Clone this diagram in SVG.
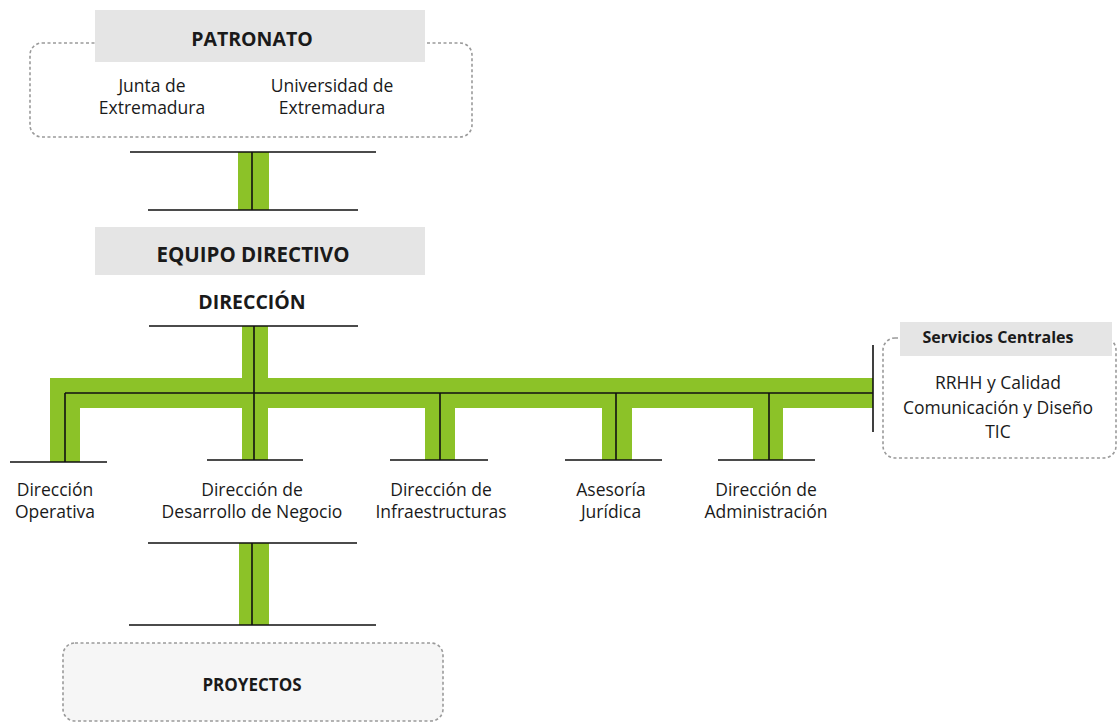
<svg xmlns="http://www.w3.org/2000/svg" width="1119" height="724" viewBox="0 0 1119 724">
<style>
.t{font-family:"Open Sans","Liberation Sans",sans-serif;fill:#1a1a1a;text-anchor:middle}
.n{font-size:17.5px}
.b{font-weight:bold}
.dash{fill:none;stroke:#9a9a9a;stroke-width:1.6;stroke-dasharray:3 2.5}
.hdr{fill:#e5e5e5}
.g{fill:#8cc228}
.k{stroke:#111;stroke-width:1.6;fill:none}
</style>
<rect width="1119" height="724" fill="#fff"/>
<g id="patronato">
<rect class="dash" x="30" y="43" width="442" height="94" rx="12"/>
<rect class="hdr" x="95" y="10" width="330" height="52"/>
<text class="t b" x="252" y="46" font-size="19.5">PATRONATO</text>
<text class="t n" x="152" y="92">Junta de</text>
<text class="t n" x="152" y="114">Extremadura</text>
<text class="t n" x="332" y="92">Universidad de</text>
<text class="t n" x="332" y="114">Extremadura</text>
</g>
<g id="equipo-directivo">
<rect class="hdr" x="95" y="227" width="330" height="48"/>
<text class="t b" x="253" y="262" font-size="20.5">EQUIPO DIRECTIVO</text>
</g>
<g id="direccion">
<text class="t b" x="252" y="309" font-size="19.5">DIRECCIÓN</text>
</g>
<g id="connectors">
<rect class="g" x="238" y="152" width="31" height="58"/>
<rect class="g" x="242" y="326" width="26" height="52"/>
<rect class="g" x="50" y="378" width="823" height="30"/>
<rect class="g" x="50" y="378" width="30" height="84"/>
<rect class="g" x="242" y="408" width="26" height="52"/>
<rect class="g" x="425" y="408" width="30" height="52"/>
<rect class="g" x="602" y="408" width="30" height="52"/>
<rect class="g" x="753" y="408" width="30" height="52"/>
<rect class="g" x="239" y="543" width="30" height="82"/>
<path class="k" d="M130 152H376M148 210H358M252 152V210"/>
<path class="k" d="M149 326H358M254 326V460M65 393H873M65 393V462M873 345V432"/>
<path class="k" d="M10 462H107M207 460H303M390 460H488M565 460H662M718 460H815"/>
<path class="k" d="M440 393V460M616 393V460M769 393V460"/>
<path class="k" d="M148 543H357M129 625H376M252 543V625"/>
</g>
<g id="dir-operativa">
<text class="t n" x="55" y="496">Dirección</text>
<text class="t n" x="55" y="518">Operativa</text>
</g>
<g id="dir-desarrollo">
<text class="t n" x="252" y="496">Dirección de</text>
<text class="t n" x="252" y="518">Desarrollo de Negocio</text>
</g>
<g id="dir-infraestructuras">
<text class="t n" x="441" y="496">Dirección de</text>
<text class="t n" x="441" y="518">Infraestructuras</text>
</g>
<g id="asesoria">
<text class="t n" x="611" y="496">Asesoría</text>
<text class="t n" x="611" y="518">Jurídica</text>
</g>
<g id="dir-administracion">
<text class="t n" x="766" y="496">Dirección de</text>
<text class="t n" x="766" y="518">Administración</text>
</g>
<g id="servicios-centrales">
<rect class="dash" x="883" y="338" width="233" height="120" rx="12"/>
<rect class="hdr" x="900" y="322" width="212" height="34"/>
<text class="t b" x="998" y="343" font-size="16">Servicios Centrales</text>
<text class="t n" x="998" y="389">RRHH y Calidad</text>
<text class="t n" x="998" y="414">Comunicación y Diseño</text>
<text class="t n" x="998" y="438">TIC</text>
</g>
<g id="proyectos">
<rect x="63" y="643" width="380" height="78" rx="12" fill="#f6f6f6" stroke="#9a9a9a" stroke-width="1.6" stroke-dasharray="3 2.5"/>
<text class="t b" x="252" y="691" font-size="17">PROYECTOS</text>
</g>
</svg>
